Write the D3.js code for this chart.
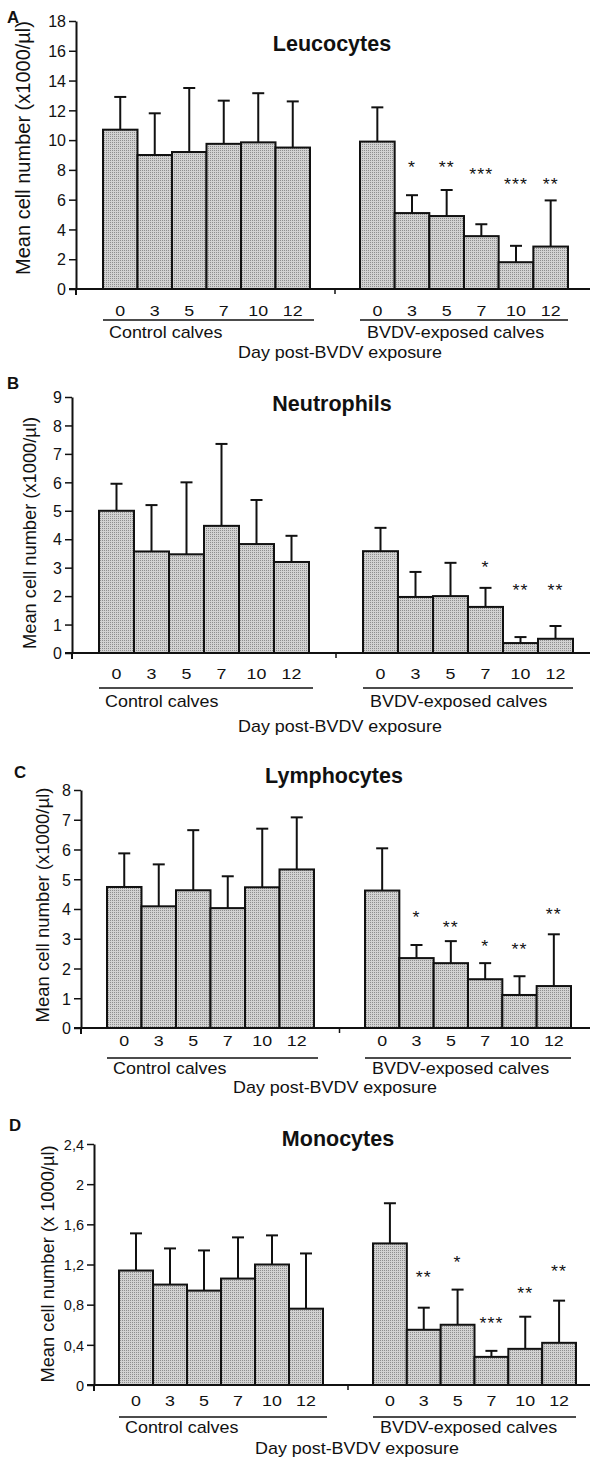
<!DOCTYPE html>
<html>
<head>
<meta charset="utf-8">
<script src="https://cdn.jsdelivr.net/npm/d3@7"></script>
<style>
  body { margin: 0; background: #fff; }
  svg { display: block; }
  text { font-family: "Liberation Sans", Arial, sans-serif; fill: #111; }
</style>
</head>
<body>
<div id="chart"></div>
<script>
// days of the study
var days = ["0", "3", "5", "7", "10", "12"];
var panelNames = ["Leucocytes", "Neutrophils", "Lymphocytes", "Monocytes"];
var panelLetters = ["A", "B", "C", "D"];

// means and top of the error bar (mean + SD), x1000/ul
var leucoCtrl = [10.7, 9.0, 9.2, 9.75, 9.85, 9.5];
var leucoCtrlTop = [12.9, 11.8, 13.5, 12.65, 13.15, 12.6];
var leucoBvdv = [9.9, 5.1, 4.9, 3.55, 1.8, 2.85];
var leucoBvdvTop = [12.2, 6.3, 6.65, 4.35, 2.9, 5.95];
var leucoSig = ["", "*", "**", "***", "***", "**"];
var leucoSigAt = [null, 8.46, 8.46, 8.0, 7.3, 7.3];

var neutroCtrl = [5.0, 3.57, 3.47, 4.47, 3.83, 3.2];
var neutroCtrlTop = [5.95, 5.2, 6.0, 7.35, 5.38, 4.12];
var neutroBvdv = [3.58, 1.97, 2.0, 1.62, 0.35, 0.5];
var neutroBvdvTop = [4.4, 2.85, 3.17, 2.29, 0.56, 0.95];
var neutroSig = ["", "", "", "*", "**", "**"];
var neutroSigAt = [null, null, null, 3.17, 2.36, 2.36];

var lymphoCtrl = [4.74, 4.09, 4.63, 4.03, 4.73, 5.33];
var lymphoCtrlTop = [5.87, 5.5, 6.65, 5.1, 6.7, 7.08];
var lymphoBvdv = [4.62, 2.35, 2.18, 1.64, 1.11, 1.41];
var lymphoBvdvTop = [6.04, 2.79, 2.92, 2.18, 1.74, 3.15];
var lymphoSig = ["", "*", "**", "*", "**", "**"];
var lymphoSigAt = [null, 3.86, 3.52, 2.89, 2.79, 3.96];

var monoCtrl = [1.14, 1.0, 0.94, 1.06, 1.2, 0.76];
var monoCtrlTop = [1.51, 1.36, 1.34, 1.47, 1.49, 1.31];
var monoBvdv = [1.41, 0.55, 0.6, 0.28, 0.36, 0.42];
var monoBvdvTop = [1.81, 0.77, 0.95, 0.34, 0.68, 0.84];
var monoSig = ["", "**", "*", "***", "**", "**"];
var monoSigAt = [null, 1.12, 1.26, 0.66, 0.96, 1.18];

var yMax = [18, 9, 8, 2.4];
var yTicks = [
  [0, 2, 4, 6, 8, 10, 12, 14, 16, 18],
  [0, 1, 2, 3, 4, 5, 6, 7, 8, 9],
  [0, 1, 2, 3, 4, 5, 6, 7, 8],
  [0, 0.4, 0.8, 1.2, 1.6, 2, 2.4]
];
var yLabels = ["Mean cell number (x1000/\u00b5l)", "Mean cell number (x1000/\u00b5l)",
  "Mean cell number (x1000/\u00b5l)", "Mean cell number (x 1000/\u00b5l)"];

var series = [
  [leucoCtrl, leucoCtrlTop, leucoBvdv, leucoBvdvTop, leucoSig, leucoSigAt],
  [neutroCtrl, neutroCtrlTop, neutroBvdv, neutroBvdvTop, neutroSig, neutroSigAt],
  [lymphoCtrl, lymphoCtrlTop, lymphoBvdv, lymphoBvdvTop, lymphoSig, lymphoSigAt],
  [monoCtrl, monoCtrlTop, monoBvdv, monoBvdvTop, monoSig, monoSigAt]
];

// page layout of each panel (pixels)
var layout = [
  {y0: 289, yTop: 21, ax: 76, cL: 103, cR: 310, bL: 360, bR: 568, tX: 332, tY: 43, lX: 13, lY: 17,
   tickY: 310, underY: 320, groupY: 332, dayX: 340, dayY: 352, ylX: 23, ylY: 148, ylSize: 20},
  {y0: 653, yTop: 397, ax: 72, cL: 99, cR: 309, bL: 363, bR: 573, tX: 332, tY: 403, lX: 13, lY: 383,
   tickY: 673, underY: 688, groupY: 701, dayX: 340, dayY: 726, ylX: 29, ylY: 533, ylSize: 18.3},
  {y0: 1028, yTop: 790, ax: 81, cL: 107, cR: 314, bL: 365, bR: 571, tX: 334, tY: 775, lX: 20, lY: 772,
   tickY: 1040, underY: 1058, groupY: 1068, dayX: 335, dayY: 1087, ylX: 42, ylY: 905, ylSize: 18.5},
  {y0: 1385, yTop: 1144, ax: 94, cL: 119, cR: 323, bL: 373, bR: 576, tX: 338, tY: 1138, lX: 15, lY: 1125,
   tickY: 1400, underY: 1417, groupY: 1427, dayX: 357, dayY: 1448, ylX: 47, ylY: 1264, ylSize: 18.3}
];

var W = 592, H = 1463;
var svg = d3.select("#chart").append("svg").attr("width", W).attr("height", H);

// stippled grey fill like the print
var pat = svg.append("defs").append("pattern")
  .attr("id", "stip").attr("patternUnits", "userSpaceOnUse")
  .attr("width", 2).attr("height", 2);
pat.append("rect").attr("width", 2).attr("height", 2).attr("fill", "#d2d2d2");
pat.append("rect").attr("width", 1).attr("height", 1).attr("fill", "#8e8e8e");

// text with a slight horizontal stretch (the scan is wider than tall)
function txt(g, x, y, s, size, anchor, sx, weight) {
  return g.append("text")
    .attr("transform", "translate(" + x + "," + y + ") scale(" + sx + ",1)")
    .attr("text-anchor", anchor)
    .style("font-size", size + "px")
    .style("font-weight", weight || "normal")
    .text(s);
}

function fmt(v) { return String(+v.toFixed(1)).replace(".", ","); }

layout.forEach(function(L, p) {
  var s = series[p];
  var g = svg.append("g");

  var y = d3.scaleLinear().domain([0, yMax[p]]).range([L.y0, L.yTop]);
  var xc = d3.scaleBand().domain(days).range([L.cL, L.cR]).padding(0);
  var xb = d3.scaleBand().domain(days).range([L.bL, L.bR]).padding(0);

  // y axis
  var tickSize = p == 3 ? 14.5 : 16;
  var yAxis = d3.axisLeft(y).tickValues(yTicks[p]).tickSize(7).tickSizeOuter(0)
    .tickFormat(p == 3 ? fmt : d3.format("d"));
  var ag = g.append("g").attr("transform", "translate(" + L.ax + ",0)").call(yAxis);
  ag.attr("font-size", tickSize).attr("font-family", "'Liberation Sans', Arial, sans-serif");
  ag.select(".domain").attr("stroke", "#111").attr("stroke-width", 2);
  ag.selectAll(".tick line").attr("stroke", "#111").attr("stroke-width", 1.5);
  ag.selectAll(".tick text").attr("fill", "#111")
    .attr("font-size", tickSize).style("font-size", tickSize + "px")
    .attr("x", -10).attr("dy", "0.36em");
  g.append("line").attr("x1", L.ax).attr("x2", L.ax).attr("y1", L.y0).attr("y2", L.y0 + 6)
    .attr("stroke", "#111").attr("stroke-width", 2);

  // bars of both groups
  [[xc, s[0], s[1]], [xb, s[2], s[3]]].forEach(function(grp) {
    var xs = grp[0], mean = grp[1], top = grp[2];
    var cx = function(d, i) { return xs(days[i]) + xs.bandwidth() / 2; };
    // error bars first (stem above the bar)
    g.selectAll(null).data(top).enter().append("line")
      .attr("x1", cx).attr("x2", cx)
      .attr("y1", function(d, i) { return y(mean[i]); })
      .attr("y2", function(d) { return y(d); })
      .attr("stroke", "#111").attr("stroke-width", 2);
    g.selectAll(null).data(top).enter().append("line")
      .attr("x1", function(d, i) { return cx(d, i) - 6; })
      .attr("x2", function(d, i) { return cx(d, i) + 6; })
      .attr("y1", function(d) { return y(d); })
      .attr("y2", function(d) { return y(d); })
      .attr("stroke", "#111").attr("stroke-width", 2);
    g.selectAll(null).data(mean).enter().append("rect")
      .attr("x", function(d, i) { return xs(days[i]); })
      .attr("width", xs.bandwidth())
      .attr("y", function(d) { return y(d); })
      .attr("height", function(d) { return L.y0 - y(d); })
      .attr("fill", "url(#stip)").attr("stroke", "#111").attr("stroke-width", 2);
    // day labels
    days.forEach(function(d, i) {
      txt(g, cx(null, i), L.tickY + 5.5, d, 15.5, "middle", 1.15);
    });
  });

  // significance stars
  s[4].forEach(function(st, i) {
    if (!st) return;
    txt(g, xb(days[i]) + xb.bandwidth() / 2, y(s[5][i]) + 10, st, 17, "middle", 1.05)
      .style("letter-spacing", "1px");
  });

  // baseline and group separator tick
  g.append("line").attr("x1", L.ax - 7).attr("x2", 590).attr("y1", L.y0).attr("y2", L.y0)
    .attr("stroke", "#111").attr("stroke-width", 2);
  var mid = (L.cR + L.bL) / 2;
  g.append("line").attr("x1", mid).attr("x2", mid).attr("y1", L.y0).attr("y2", L.y0 + 5)
    .attr("stroke", "#111").attr("stroke-width", 1.5);

  // group underlines and names
  g.append("line").attr("x1", L.cL).attr("x2", L.cR + 4).attr("y1", L.underY).attr("y2", L.underY)
    .attr("stroke", "#111").attr("stroke-width", 1.5);
  g.append("line").attr("x1", L.bL).attr("x2", L.bR).attr("y1", L.underY).attr("y2", L.underY)
    .attr("stroke", "#111").attr("stroke-width", 1.5);
  txt(g, L.cL + 6, L.groupY + 5.5, "Control calves", 16, "start", 1.12);
  txt(g, L.bL + 7, L.groupY + 5.5, "BVDV-exposed calves", 16, "start", 1.12);
  txt(g, L.dayX, L.dayY + 5.5, "Day post-BVDV exposure", 16, "middle", 1.12);

  // title, panel letter, y label
  txt(g, L.tX, L.tY + 7.5, panelNames[p], 21.5, "middle", 1, "bold");
  txt(g, L.lX, L.lY + 6, panelLetters[p], 16, "middle", 1.05, "bold");
  g.append("text")
    .attr("transform", "translate(" + (L.ylX + L.ylSize * 0.36) + "," + L.ylY + ") rotate(-90)")
    .attr("text-anchor", "middle")
    .style("font-size", L.ylSize + "px")
    .text(yLabels[p]);
});
</script>
</body>
</html>
